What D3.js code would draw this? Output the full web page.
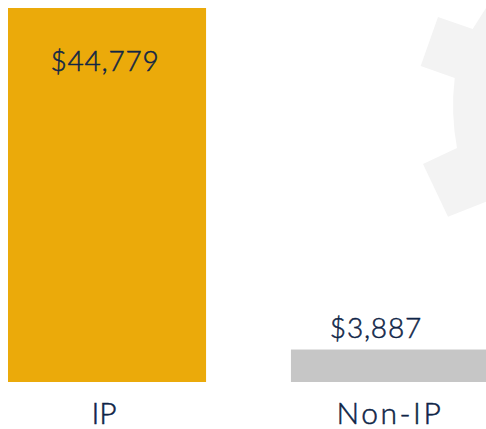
<!DOCTYPE html>
<html>
<head>
<meta charset="utf-8">
<script src="https://cdn.jsdelivr.net/npm/d3@7"></script>
<style>
    html, body { margin: 0; padding: 0; background: #fff; overflow: hidden; }
    svg { display: block; }
    text { font-family: Lato, "Open Sans", sans-serif; font-weight: 300; fill: #0f2547; stroke: #0f2547; stroke-width: 0.5px; }
</style>
</head>
<body>
<svg id="chart" width="486" height="429"></svg>
<script>
    var categories = ["IP", "Non-IP"];
    var values = [44779, 3887];
    var barColors = ["#ebaa0a", "#c6c6c6"];

    var width = 486, height = 429;

    var svg = d3.select("#chart");

    // Watermark gear behind the bars, only its left side is in frame
    var gear = d3.path();
    gear.moveTo(486, 8);
    gear.lineTo(472.7, 29);
    gear.lineTo(438, 17);
    gear.lineTo(420.7, 66);
    gear.lineTo(454.7, 78);
    gear.quadraticCurveTo(450.5, 113, 457, 148);
    gear.lineTo(423, 164);
    gear.lineTo(448, 216.7);
    gear.lineTo(486, 201.7);
    gear.closePath();

    svg.append("path")
        .attr("d", gear.toString())
        .attr("fill", "#f3f3f3");

    var xScale = d3.scaleBand()
        .domain(categories)
        .range([8, 489])
        .paddingInner(0.3);

    var yScale = d3.scaleLinear()
        .domain([0, d3.max(values)])
        .range([382, 8]);

    var rows = categories.map(function (c, i) {
        return { category: c, value: values[i], color: barColors[i] };
    });

    svg.selectAll("rect.bar")
        .data(rows)
        .enter().append("rect")
        .attr("class", "bar")
        .attr("x", function (d) { return xScale(d.category); })
        .attr("y", function (d) { return yScale(d.value); })
        .attr("width", xScale.bandwidth())
        .attr("height", function (d) { return yScale(0) - yScale(d.value); })
        .attr("fill", function (d) { return d.color; });

    // Big bar keeps its label inside, the small one sits above
    svg.selectAll("text.value")
        .data(rows)
        .enter().append("text")
        .attr("class", "value")
        .attr("x", function (d) { return xScale(d.category) + (d.value > 20000 ? 97 : 85); })
        .attr("y", function (d) { return d.value > 20000 ? yScale(d.value) + 63 : yScale(d.value) - 12; })
        .attr("text-anchor", "middle")
        .style("font-size", "28px")
        .style("letter-spacing", "0.8px")
        .text(function (d) { return "$" + d3.format(",")(d.value); });

    svg.selectAll("text.category")
        .data(rows)
        .enter().append("text")
        .attr("class", "category")
        .attr("x", function (d, i) { return xScale(d.category) + (i === 0 ? 96 : 99); })
        .attr("y", 424)
        .attr("text-anchor", "middle")
        .style("font-size", "30px")
        .style("letter-spacing", function (d, i) { return i === 0 ? "0" : "2.5px"; })
        .text(function (d) { return d.category; });
</script>
</body>
</html>
